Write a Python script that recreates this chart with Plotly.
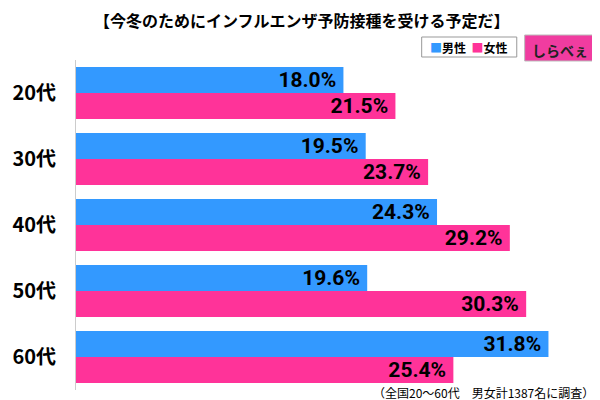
import plotly.graph_objects as go

categories = ["20代", "30代", "40代", "50代", "60代"]
male = [18.0, 19.5, 24.3, 19.6, 31.8]
female = [21.5, 23.7, 29.2, 30.3, 25.4]
series_names = ["男性", "女性"]
title_text = "【今冬のためにインフルエンザ予防接種を受ける予定だ】"
footer_text = "（全国20～60代　男女計1387名に調査）"

BLUE = "#3399FF"
PINK = "#FF3399"
NUM_FONT = "Roboto, Arial, sans-serif"
JP_FONT = "Noto Sans CJK JP, sans-serif"

# page has an 8px body margin; figure is laid out in window pixels minus 8
OFF = 8
W, H = 600 - OFF, 400 - OFF
L, R, T, B = 71 - OFF, 4, 60 - OFF, H - (390 - OFF)
PW, PH = W - L - R, H - T - B


def px(x):
    return (x - OFF - L) / PW


def py(y):
    return (H - B - (y - OFF)) / PH


fig = go.Figure()
for name, vals, col in [(series_names[0], male, BLUE), (series_names[1], female, PINK)]:
    fig.add_trace(go.Bar(
        y=categories, x=vals, name=name, orientation="h",
        marker=dict(color=col, line=dict(width=0)),
        texttemplate="%{x:.1f}%\u2009", textposition="inside",
        insidetextanchor="end", textangle=0, constraintext="none",
        textfont=dict(family=NUM_FONT, size=21, color="black", weight="bold"),
        cliponaxis=False,
    ))

fig.update_layout(
    width=W, height=H,
    margin=dict(l=L, r=R, t=T, b=B),
    paper_bgcolor="white", plot_bgcolor="white",
    barmode="group", bargap=0.21, bargroupgap=0,
    showlegend=False,
    font=dict(family=JP_FONT),
    xaxis=dict(range=[0, 35], visible=False, fixedrange=True),
    yaxis=dict(autorange="reversed", showline=True, linecolor="#CCCCCC", linewidth=1,
               ticks="", showgrid=False, ticklabelstandoff=15,
               tickfont=dict(family=JP_FONT, size=20, color="black", weight="bold")),
)

fig.add_annotation(text=title_text, xref="paper", yref="paper", x=px(299), xanchor="center",
                   y=py(20), yanchor="middle", showarrow=False,
                   font=dict(family=JP_FONT, size=16, color="black", weight="bold"))

# legend box
fig.add_shape(type="rect", xref="paper", yref="paper",
              x0=px(420), x1=px(516), y0=py(57), y1=py(37),
              line=dict(color="#999999", width=1), fillcolor="white")
fig.add_annotation(
    text=f"<span style='color:{BLUE}'>■</span>{series_names[0]}  <span style='color:{PINK}'>■</span>{series_names[1]}",
    xref="paper", yref="paper", x=px(468), xanchor="center",
    y=py(47), yanchor="middle", showarrow=False,
    font=dict(family=JP_FONT, size=12, color="black", weight="bold"))

# logo
fig.add_shape(type="rect", xref="paper", yref="paper",
              x0=px(524), x1=px(595), y0=py(61), y1=py(35),
              line=dict(color="#BBBBBB", width=1), fillcolor="#F03CA0")
fig.add_annotation(text="しらべぇ", xref="paper", yref="paper", x=px(560),
                   xanchor="center", y=py(50), yanchor="middle",
                   showarrow=False,
                   font=dict(family=JP_FONT, size=14, color="#222222", weight="bold"))

fig.add_annotation(text=footer_text, xref="paper", yref="paper", x=px(596), xanchor="right",
                   y=py(392), yanchor="middle", showarrow=False,
                   font=dict(family=JP_FONT, size=12, color="black"))

fig.write_html("out.html")
